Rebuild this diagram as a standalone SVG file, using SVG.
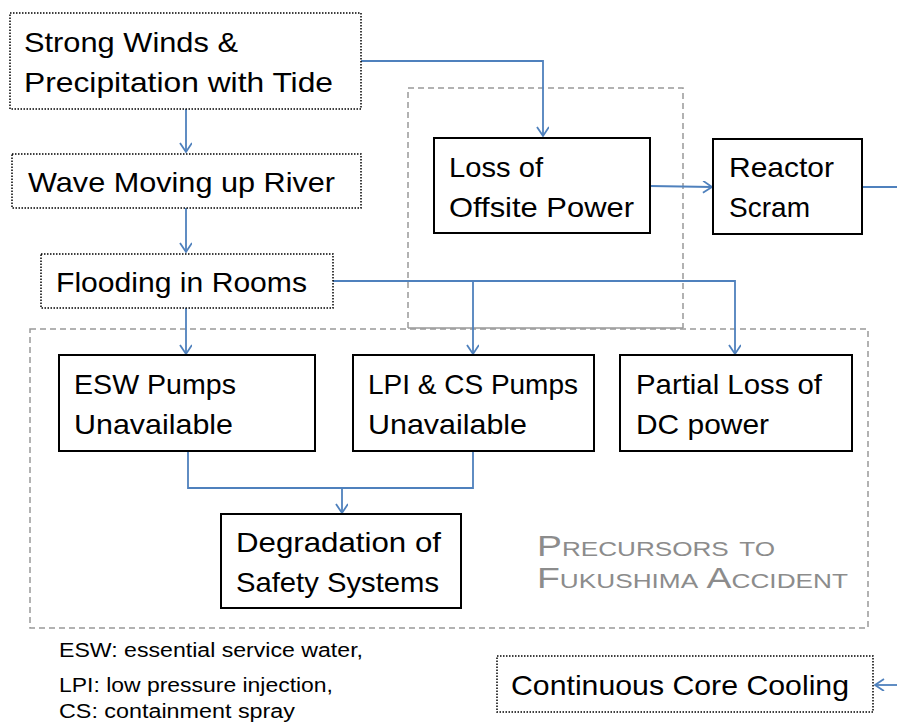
<svg xmlns="http://www.w3.org/2000/svg" width="897" height="722" viewBox="0 0 897 722">
  <style>
    .dotted { fill: #ffffff; stroke: #000000; stroke-width: 1.5; stroke-dasharray: 1.5 1.5; }
    .solid { fill: #ffffff; stroke: #000000; stroke-width: 2; }
    .group { fill: none; stroke: #999999; stroke-width: 1.5; stroke-dasharray: 6 4; }
    .link { fill: none; stroke: #4f81bd; stroke-width: 1.8; }
    .label { font-family: "Liberation Sans", Arial, sans-serif; font-size: 28px; fill: #000000; }
    .note { font-family: "Liberation Sans", Arial, sans-serif; font-size: 20px; fill: #000000; }
    .title { font-family: "Liberation Sans", Arial, sans-serif; font-size: 30px; fill: #8c8c8c; }
    .title .sc { font-size: 21px; }
  </style>
  <defs>
    <marker id="arrow" markerUnits="userSpaceOnUse" markerWidth="14" markerHeight="14" refX="10" refY="6" orient="auto">
      <path d="M1,0 L10,6 L1,12" fill="none" stroke="#4f81bd" stroke-width="1.8"/>
    </marker>
  </defs>

  <rect width="897" height="722" fill="#ffffff"/>

  <!-- grouping frames -->
  <g id="frames">
    <rect class="group" x="30" y="329" width="838" height="299"/>
    <path class="group" d="M408,328 L408,88 L683,88 L683,328"/>
    <line x1="408" y1="328" x2="683" y2="328" stroke="#999999" stroke-width="1.5"/>
  </g>

  <!-- connectors -->
  <g id="connectors">
    <line class="link" x1="186" y1="109" x2="186" y2="152" marker-end="url(#arrow)"/>
    <line class="link" x1="186" y1="208" x2="186" y2="252" marker-end="url(#arrow)"/>
    <line class="link" x1="186" y1="308" x2="186" y2="354" marker-end="url(#arrow)"/>
    <polyline class="link" points="361,61 543,61 543,136" marker-end="url(#arrow)"/>
    <line class="link" x1="650" y1="186" x2="712" y2="187" marker-end="url(#arrow)"/>
    <line class="link" x1="862" y1="187" x2="897" y2="187"/>
    <polyline class="link" points="333,281 735,281 735,354" marker-end="url(#arrow)"/>
    <line class="link" x1="473" y1="281" x2="473" y2="354" marker-end="url(#arrow)"/>
    <polyline class="link" points="188,451 188,488 473,488 473,451"/>
    <line class="link" x1="342" y1="488" x2="342" y2="513" marker-end="url(#arrow)"/>
    <line class="link" x1="897" y1="685" x2="875" y2="685" marker-end="url(#arrow)"/>
  </g>

  <g id="strong-winds">
    <rect class="dotted" x="10" y="13" width="351" height="96"/>
    <text class="label" x="24" y="52" textLength="214" lengthAdjust="spacingAndGlyphs">Strong Winds &amp;</text>
    <text class="label" x="24" y="92" textLength="309" lengthAdjust="spacingAndGlyphs">Precipitation with Tide</text>
  </g>

  <g id="wave">
    <rect class="dotted" x="12" y="154" width="349" height="54"/>
    <text class="label" x="28" y="192" textLength="307" lengthAdjust="spacingAndGlyphs">Wave Moving up River</text>
  </g>

  <g id="flooding">
    <rect class="dotted" x="41" y="254" width="292" height="54"/>
    <text class="label" x="56" y="292" textLength="251" lengthAdjust="spacingAndGlyphs">Flooding in Rooms</text>
  </g>

  <g id="loss-offsite">
    <rect class="solid" x="434" y="138" width="216" height="95"/>
    <text class="label" x="449" y="177" textLength="94" lengthAdjust="spacingAndGlyphs">Loss of</text>
    <text class="label" x="449" y="217" textLength="185" lengthAdjust="spacingAndGlyphs">Offsite Power</text>
  </g>

  <g id="reactor-scram">
    <rect class="solid" x="713" y="139" width="149" height="95"/>
    <text class="label" x="729" y="177" textLength="105" lengthAdjust="spacingAndGlyphs">Reactor</text>
    <text class="label" x="729" y="217" textLength="81" lengthAdjust="spacingAndGlyphs">Scram</text>
  </g>

  <g id="esw-pumps">
    <rect class="solid" x="59" y="355" width="256" height="96" stroke="#404040"/>
    <text class="label" x="74" y="394" textLength="162" lengthAdjust="spacingAndGlyphs">ESW Pumps</text>
    <text class="label" x="74" y="434" textLength="159" lengthAdjust="spacingAndGlyphs">Unavailable</text>
  </g>

  <g id="lpi-cs-pumps">
    <rect class="solid" x="353" y="355" width="241" height="96"/>
    <text class="label" x="368" y="394" textLength="210" lengthAdjust="spacingAndGlyphs">LPI &amp; CS Pumps</text>
    <text class="label" x="368" y="434" textLength="159" lengthAdjust="spacingAndGlyphs">Unavailable</text>
  </g>

  <g id="partial-dc">
    <rect class="solid" x="620" y="355" width="232" height="96"/>
    <text class="label" x="636" y="394" textLength="186" lengthAdjust="spacingAndGlyphs">Partial Loss of</text>
    <text class="label" x="636" y="434" textLength="133" lengthAdjust="spacingAndGlyphs">DC power</text>
  </g>

  <g id="degradation">
    <rect class="solid" x="221" y="514" width="240" height="94"/>
    <text class="label" x="236" y="552" textLength="205" lengthAdjust="spacingAndGlyphs">Degradation of</text>
    <text class="label" x="236" y="592" textLength="203" lengthAdjust="spacingAndGlyphs">Safety Systems</text>
  </g>

  <g id="frame-title">
    <text class="title" x="537" y="556" textLength="238" lengthAdjust="spacingAndGlyphs">P<tspan class="sc">RECURSORS</tspan> <tspan class="sc">TO</tspan></text>
    <text class="title" x="537" y="588" textLength="311" lengthAdjust="spacingAndGlyphs">F<tspan class="sc">UKUSHIMA</tspan> A<tspan class="sc">CCIDENT</tspan></text>
  </g>

  <g id="abbreviations">
    <text class="note" x="59" y="657" textLength="304" lengthAdjust="spacingAndGlyphs">ESW: essential service water,</text>
    <text class="note" x="59" y="692" textLength="274" lengthAdjust="spacingAndGlyphs">LPI: low pressure injection,</text>
    <text class="note" x="59" y="718" textLength="236" lengthAdjust="spacingAndGlyphs">CS: containment spray</text>
  </g>

  <g id="core-cooling">
    <rect class="dotted" x="497" y="656" width="376" height="56"/>
    <text class="label" x="511" y="695" textLength="338" lengthAdjust="spacingAndGlyphs">Continuous Core Cooling</text>
  </g>
</svg>
